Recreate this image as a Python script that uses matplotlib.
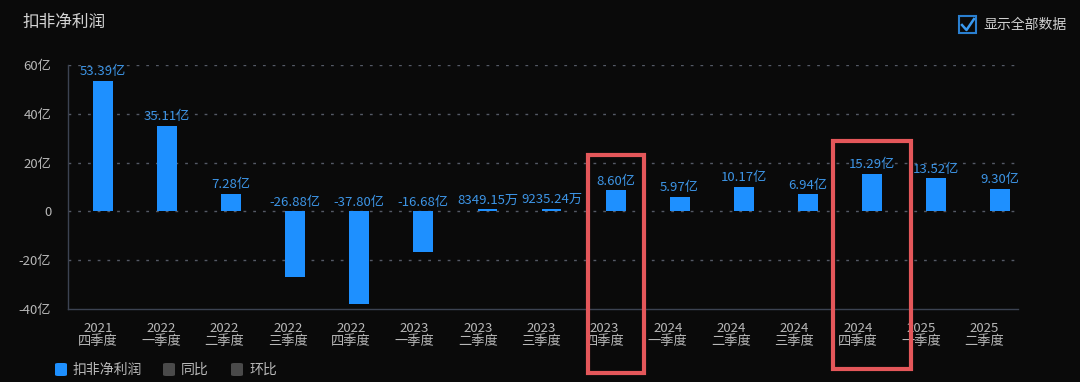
import matplotlib.pyplot as plt
from matplotlib.patches import Rectangle, FancyBboxPatch

plt.rcParams['font.family'] = ['Noto Sans CJK SC', 'DejaVu Sans']

years = ["2021", "2022", "2022", "2022", "2022", "2023", "2023", "2023",
         "2023", "2024", "2024", "2024", "2024", "2025", "2025"]
quarters = ["四季度", "一季度", "二季度", "三季度", "四季度", "一季度", "二季度", "三季度",
            "四季度", "一季度", "二季度", "三季度", "四季度", "一季度", "二季度"]
# 扣非净利润, 单位: 亿
values = [53.39, 35.11, 7.28, -26.88, -37.80, -16.68, 0.834915, 0.923524,
          8.60, 5.97, 10.17, 6.94, 15.29, 13.52, 9.30]
value_labels = ["53.39亿", "35.11亿", "7.28亿", "-26.88亿", "-37.80亿", "-16.68亿",
                "8349.15万", "9235.24万", "8.60亿", "5.97亿", "10.17亿", "6.94亿",
                "15.29亿", "13.52亿", "9.30亿"]
y_ticks = [-40, -20, 0, 20, 40, 60]
y_tick_labels = ["-40亿", "-20亿", "0", "20亿", "40亿", "60亿"]

BG = "#0a0a0a"
BAR = "#1e90ff"
LABEL = "#3d95e6"
GRID = "#555a66"
TEXT = "#b8b8b8"
RED = "#e4575a"

W, H = 1080, 382
fig = plt.figure(figsize=(W / 100, H / 100), dpi=100, facecolor=BG)
ax = fig.add_axes([68 / W, 1 - 309 / H, (1018 - 68) / W, (309 - 65) / H])
ax.set_facecolor(BG)

x = list(range(len(values)))
ax.bar(x, values, width=0.31, color=BAR, zorder=3)

for i, v in enumerate(values):
    ax.annotate(value_labels[i], (i, max(v, 0)), xytext=(0, 2), textcoords="offset points",
                ha="center", va="bottom", color=LABEL, fontsize=9.5, zorder=4)

# in the source the category labels sit a little left of the bars, drifting across
ax.set_xlim(-0.546, 14.28)
ax.set_xticks([-0.078 + 0.988 * i for i in x])
ax.set_ylim(-40, 60)
ax.set_yticks(y_ticks)
ax.set_yticklabels(y_tick_labels)
ax.set_xticklabels([f"{a}\n{b}" for a, b in zip(years, quarters)], linespacing=1.0)
ax.tick_params(axis="both", length=0, colors=TEXT, labelsize=9.5)
ax.tick_params(axis="x", pad=9)
ax.tick_params(axis="y", pad=12)

for t in y_ticks[1:]:
    ax.axhline(t, color=GRID, linestyle=(0, (2, 5)), linewidth=1, zorder=1)

for side in ["top", "right"]:
    ax.spines[side].set_visible(False)
for side in ["left", "bottom"]:
    ax.spines[side].set_color("#3c4352")
    ax.spines[side].set_linewidth(1)

# title
fig.text(22 / W, 1 - 22 / H, "扣非净利润", color="#d4d4d4", fontsize=12, va="center", ha="left")

# checkbox top-right
fig.add_artist(Rectangle((959 / W, 1 - 33 / H), 17 / W, 17 / H, transform=fig.transFigure,
                         fill=False, edgecolor="#2a7fd0", linewidth=1.5))
fig.add_artist(plt.Line2D([962 / W, 966.5 / W, 974 / W], [1 - 25 / H, 1 - 30 / H, 1 - 19 / H],
                          transform=fig.transFigure, color="#3a9af0", linewidth=1.8))
fig.text(983 / W, 1 - 25 / H, "显示全部数据", color="#d0d0d0", fontsize=10, va="center", ha="left")

# bottom legend
legend_items = [("扣非净利润", BAR, 55), ("同比", "#4a4a4a", 163), ("环比", "#4a4a4a", 231)]
for name, col, px in legend_items:
    fig.add_artist(FancyBboxPatch((px / W, 1 - 376 / H), 12 / W, 13 / H,
                                  boxstyle="round,pad=0,rounding_size=0.003",
                                  transform=fig.transFigure, facecolor=col, edgecolor="none"))
    fig.text((px + 18) / W, 1 - 370 / H, name, color=TEXT, fontsize=10, va="center", ha="left")

# red highlight boxes
boxes = [(588, 155, 644, 373), (833, 141, 911, 369)]
for x0, y0, x1, y1 in boxes:
    fig.add_artist(Rectangle((x0 / W, 1 - y1 / H), (x1 - x0) / W, (y1 - y0) / H,
                             transform=fig.transFigure, fill=False, edgecolor=RED,
                             linewidth=3, zorder=10))

fig.savefig("out.png", dpi=100, facecolor=BG)
